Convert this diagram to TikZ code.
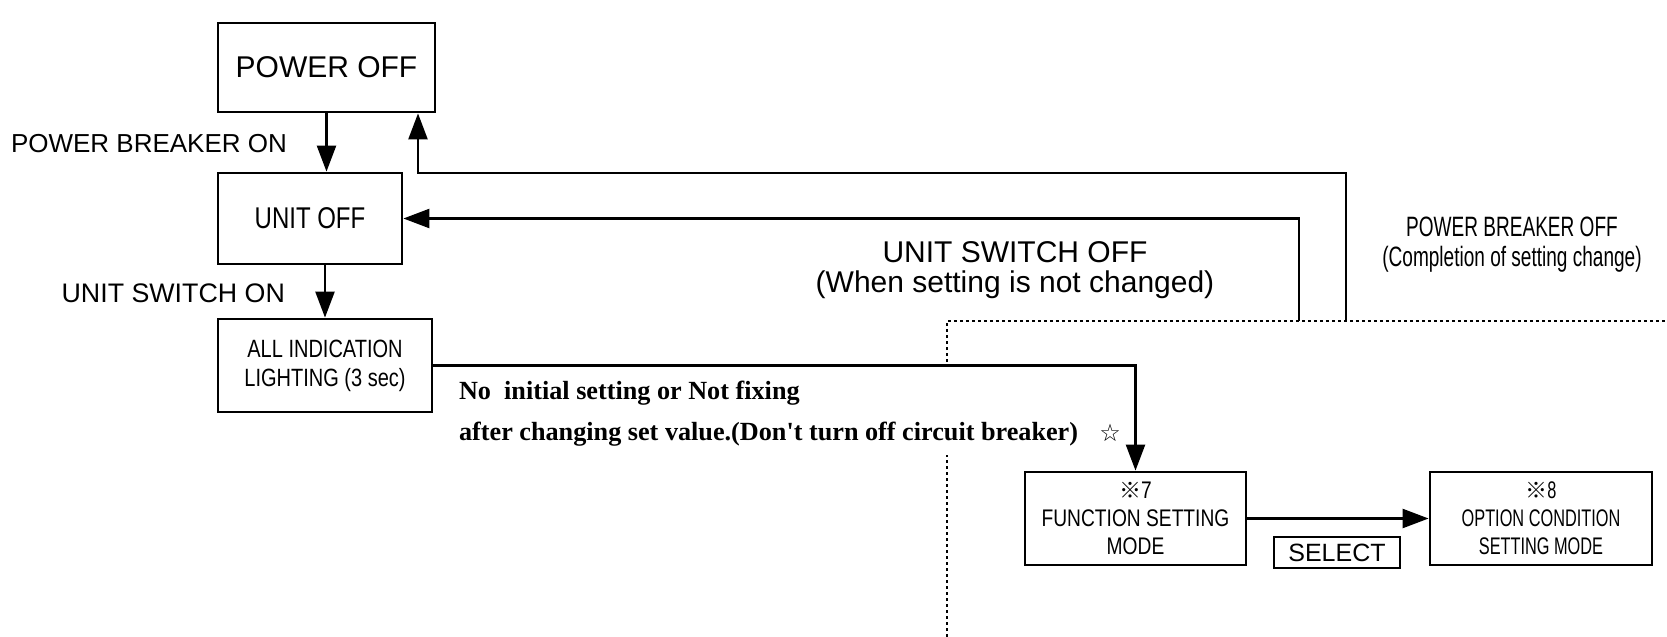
\documentclass[tikz,border=0pt]{standalone}
\usepackage{fontspec}
\setmainfont{Liberation Sans}
\newfontfamily\condfont[FakeStretch=0.8]{Liberation Sans}
\newfontfamily\slimfont[FakeStretch=0.68]{Liberation Sans}
\newfontfamily\notefont{Liberation Serif}
\newfontfamily\symfont{DejaVu Sans}
\newfontfamily\markfont{Noto Sans CJK JP}
\usetikzlibrary{arrows.meta}

\tikzset{
  statebox/.style={draw, line width=1.4pt, align=center, inner sep=0pt},
  flow/.style={line width=1.2pt, -{Triangle[length=13pt,width=9.5pt]}},
  edgelabel/.style={font=\fontsize{13}{15}\selectfont},
  note/.style={font=\notefont\bfseries\fontsize{13.1}{16}\selectfont, anchor=west},
  dotline/.style={line width=1pt, dash pattern=on 1.5pt off 1.5pt},
}

\begin{document}
\begin{tikzpicture}[x=0.5pt, y=-0.5pt]
    \useasboundingbox (0,0) rectangle (1667,637);
    \node[statebox, minimum width=108.5pt, minimum height=44.5pt, font=\fontsize{15}{18}\selectfont] (poweroff) at (326.5,67.5) {POWER OFF};
    \node[statebox, minimum width=92pt, minimum height=45.5pt, font=\condfont\fontsize{15}{18}\selectfont] (unitoff) at (310,218.5) {UNIT OFF};
    \node[statebox, minimum width=107pt, minimum height=46.5pt, font=\condfont\fontsize{12.5}{14.5}\selectfont] (allind) at (325,365.5) {ALL INDICATION\\LIGHTING (3 sec)};
    \node[statebox, minimum width=110.5pt, minimum height=46.5pt, font=\condfont\fontsize{12}{14}\selectfont] (funcmode) at (1135.5,518.5) {{\markfont\fontsize{11}{14}\selectfont ※}7\\FUNCTION SETTING\\MODE};
    \node[statebox, minimum width=111pt, minimum height=46.5pt, font=\slimfont\fontsize{12}{14}\selectfont] (optmode) at (1541,518.5) {{\markfont\fontsize{11}{14}\selectfont ※}8\\OPTION CONDITION\\SETTING MODE};
    \node[statebox, line width=1pt, minimum width=63pt, minimum height=15.5pt, font=\fontsize{12.5}{14}\selectfont] (select) at (1337,552.5) {SELECT};

    \node[edgelabel, anchor=east] (pbon) at (294,144) {POWER BREAKER ON};
    \node[edgelabel, font=\fontsize{13.4}{15}\selectfont, anchor=east] (uson) at (292,293) {UNIT SWITCH ON};
    \node[align=center, font=\fontsize{15}{15}\selectfont] (usoff) at (1015,270) {UNIT SWITCH OFF\\(When setting is not changed)};
    \node[align=center, font=\slimfont\fontsize{14}{15}\selectfont] (pboff) at (1512,245) {POWER BREAKER OFF\\(Completion of setting change)};
    \node[note] (cond1) at (452,393) {No\ \ initial setting or Not fixing};
    \node[note] (cond2) at (452,434) {after changing set value.(Don't turn off circuit breaker)};
    \node[font=\symfont\fontsize{12}{12}\selectfont] (star) at (1110,433) {☆};

    \coordinate (pturn) at (418,173);
    \coordinate (pbreak) at (1346,321);
    \coordinate (sbreak) at (1299,321);
    \coordinate (dfoot) at (947,637);
    \coordinate (dgapbot) at (947,455);
    \coordinate (dgaptop) at (947,362);
    \coordinate (dend) at (1667,321);

    \draw[flow] (poweroff.south) -- (poweroff.south |- unitoff.north);
    \draw[flow] (allind.north |- unitoff.south) -- (allind.north);
    \draw[flow] (pbreak) |- (pturn) -- (pturn |- poweroff.south);
    \draw[flow] (sbreak) |- (unitoff.east);
    \draw[flow] (allind.east) -| (funcmode.north);
    \draw[flow] (funcmode.east) -- (optmode.west);
    \draw[dotline] (dfoot) -- (dgapbot);
    \draw[dotline] (dgaptop) |- (dend);
\end{tikzpicture}
\end{document}
